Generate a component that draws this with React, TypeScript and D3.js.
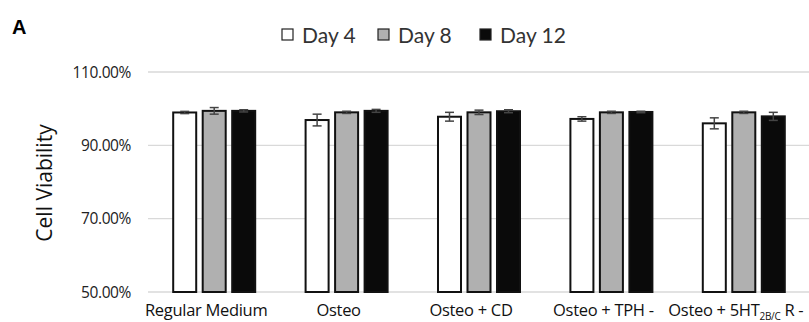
import React, { useEffect, useRef } from "react";
import * as d3 from "d3";

const categories = ["Regular Medium", "Osteo", "Osteo + CD", "Osteo + TPH -", "Osteo + 5HT"];
const seriesNames = ["Day 4", "Day 8", "Day 12"];
const seriesColors = ["#ffffff", "#b0b0b0", "#0a0a0a"];
const day4 = [98.96, 96.9, 97.8, 97.2, 96.0];
const day8 = [99.4, 99.0, 99.0, 99.0, 99.0];
const day12 = [99.4, 99.4, 99.3, 99.1, 97.9];
const day4Err = [0.3, 1.6, 1.2, 0.6, 1.5];
const day8Err = [0.9, 0.3, 0.6, 0.3, 0.3];
const day12Err = [0.3, 0.4, 0.4, 0.2, 1.1];
const yTicks = [50, 70, 90, 110];

const width = 809;
const height = 322;
const margin = { top: 72, right: 0, bottom: 30, left: 148 };

export default function App() {
  const svgRef = useRef<SVGSVGElement>(null);

  useEffect(() => {
    if (!svgRef.current) return;
    const svg = d3.select(svgRef.current);
    svg.selectAll("*").remove();

    const values = [day4, day8, day12];
    const errs = [day4Err, day8Err, day12Err];

    const y = d3.scaleLinear().domain([50, 110]).range([292, 72]);
    const x0 = d3.scaleBand().domain(categories).range([margin.left, width + 1]).padding(0);
    const groupW = 82;
    const x1 = d3
      .scaleBand()
      .domain(seriesNames)
      .range([(x0.bandwidth() - groupW) / 2, (x0.bandwidth() + groupW) / 2])
      .paddingInner(0.22)
      .paddingOuter(0);

    // gridlines
    svg
      .append("g")
      .selectAll("line")
      .data(yTicks)
      .join("line")
      .attr("x1", margin.left)
      .attr("x2", width)
      .attr("y1", (d) => y(d))
      .attr("y2", (d) => y(d))
      .attr("stroke", "#d9d9d9")
      .attr("stroke-width", 1.3);

    // y tick labels
    svg
      .append("g")
      .selectAll("text")
      .data(yTicks)
      .join("text")
      .attr("x", 131)
      .attr("y", (d) => y(d) + 5.5)
      .attr("text-anchor", "end")
      .attr("font-family", "'Open Sans', sans-serif")
      .attr("font-size", 15.5)
      .attr("letter-spacing", -0.4)
      .attr("fill", "#222")
      .text((d) => `${d.toFixed(2)}%`);

    // y title
    svg
      .append("text")
      .attr("transform", `translate(52,183) rotate(-90)`)
      .attr("text-anchor", "middle")
      .attr("font-family", "'Open Sans', sans-serif")
      .attr("font-size", 21)
      .attr("fill", "#111")
      .text("Cell Viability");

    // bars
    const groups = svg
      .append("g")
      .selectAll("g")
      .data(categories)
      .join("g")
      .attr("transform", (d) => `translate(${x0(d)},0)`);

    seriesNames.forEach((s, si) => {
      groups
        .append("rect")
        .attr("x", x1(s) || 0)
        .attr("y", (_d, i) => y(values[si][i]))
        .attr("width", x1.bandwidth())
        .attr("height", (_d, i) => y(50) - y(values[si][i]))
        .attr("fill", seriesColors[si])
        .attr("stroke", "#111")
        .attr("stroke-width", 2);

      const cx = (x1(s) || 0) + x1.bandwidth() / 2;
      const eg = groups.append("g").attr("stroke", "#444").attr("stroke-width", 1.5);
      eg.append("line")
        .attr("x1", cx)
        .attr("x2", cx)
        .attr("y1", (_d, i) => y(values[si][i] + errs[si][i]))
        .attr("y2", (_d, i) => y(values[si][i] - errs[si][i]));
      [1, -1].forEach((sign) => {
        eg.append("line")
          .attr("x1", cx - 4.5)
          .attr("x2", cx + 4.5)
          .attr("y1", (_d, i) => y(values[si][i] + sign * errs[si][i]))
          .attr("y2", (_d, i) => y(values[si][i] + sign * errs[si][i]));
      });
    });

    // category labels
    const labels = svg
      .append("g")
      .selectAll("text")
      .data(categories)
      .join("text")
      .attr("x", (d) => (x0(d) || 0) + x0.bandwidth() / 2 - 8)
      .attr("y", 316)
      .attr("text-anchor", "middle")
      .attr("font-family", "'Open Sans', sans-serif")
      .attr("font-size", 16.5)
      .attr("letter-spacing", -0.3)
      .attr("fill", "#111");
    labels.each(function (d) {
      const t = d3.select(this);
      if (d === "Osteo + 5HT") {
        t.append("tspan").text("Osteo + 5HT");
        t.append("tspan").attr("font-size", 10).attr("dy", 4).text("2B/C");
        t.append("tspan").attr("dy", -4).text(" R -");
      } else {
        t.text(d);
      }
    });

    // legend
    const legendX = [282, 378, 480];
    const legend = svg
      .append("g")
      .selectAll("g")
      .data(seriesNames)
      .join("g")
      .attr("transform", (_d, i) => `translate(${legendX[i]},29)`);
    legend
      .append("rect")
      .attr("width", 11)
      .attr("height", 11)
      .attr("fill", (_d, i) => seriesColors[i])
      .attr("stroke", "#222")
      .attr("stroke-width", 1.2);
    legend
      .append("text")
      .attr("x", 20)
      .attr("y", 14)
      .attr("font-family", "Lato, sans-serif")
      .attr("font-size", 21)
      .attr("fill", "#333")
      .text((d) => d);

    // panel letter
    svg
      .append("text")
      .attr("x", 12)
      .attr("y", 34)
      .attr("font-family", "'Liberation Sans', Arial, sans-serif")
      .attr("font-weight", "bold")
      .attr("font-size", 20)
      .attr("fill", "#000")
      .text("A");
  }, []);

  return (
    <svg
      ref={svgRef}
      width={width}
      height={height}
      style={{ position: "absolute", left: 0, top: 0, background: "#fff", display: "block" }}
    />
  );
}
